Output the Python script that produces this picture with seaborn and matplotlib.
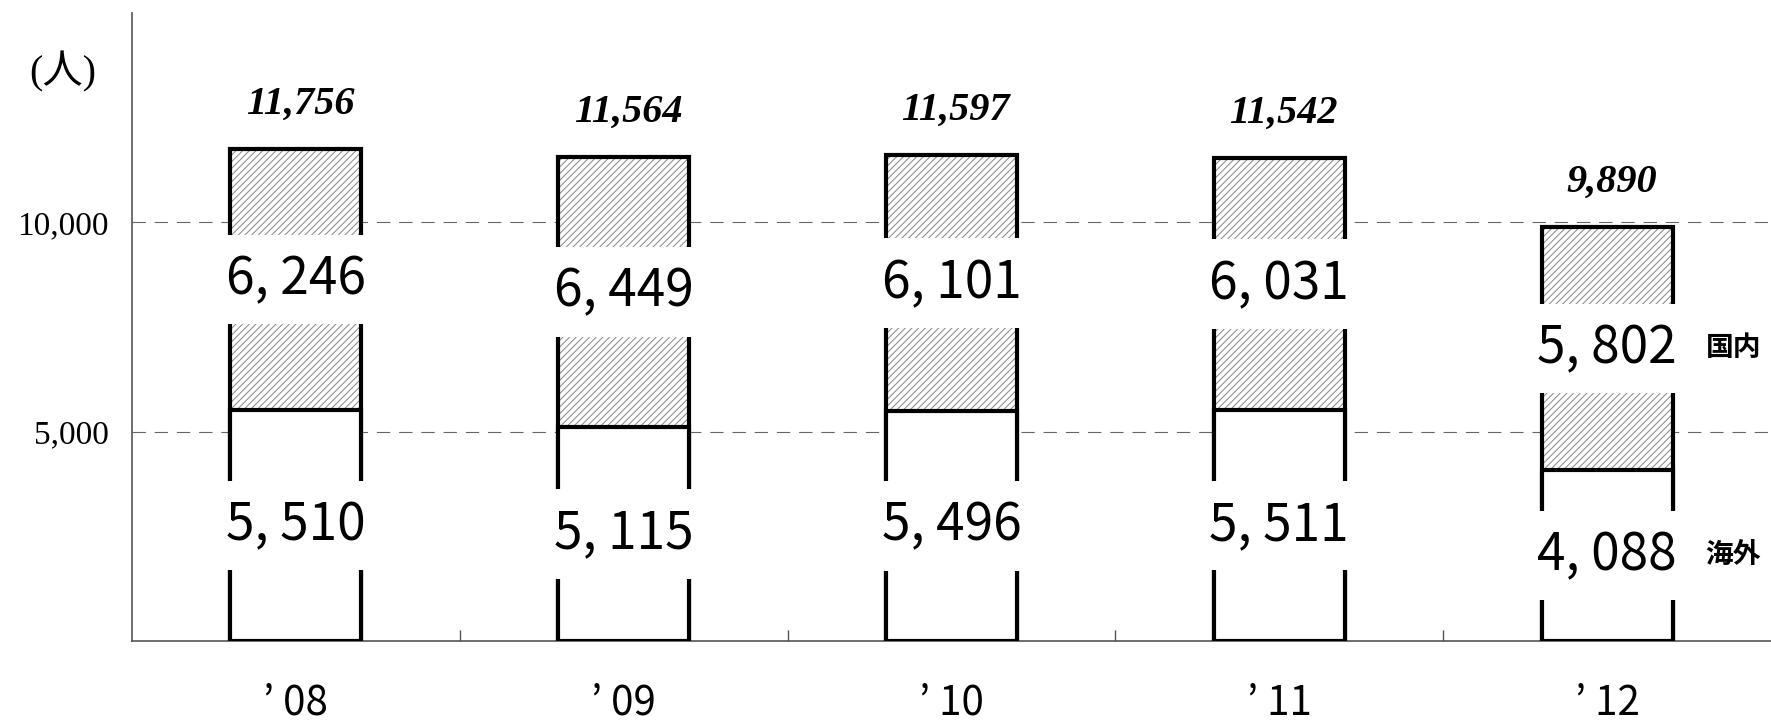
import matplotlib
matplotlib.use("Agg")
import matplotlib.pyplot as plt
import seaborn as sns

# data
YEARS = ["’ 08", "’ 09", "’ 10", "’ 11", "’ 12"]
DOMESTIC = [6246, 6449, 6101, 6031, 5802]   # 国内
OVERSEAS = [5510, 5115, 5496, 5511, 4088]   # 海外
Y_TICKS = [5000, 10000]
Y_TICK_LABELS = ["5,000", "10,000"]
UNIT_LABEL = "(人)"
SERIES_LABELS = ["国内", "海外"]

GOTHIC = ["Noto Sans CJK JP", "DejaVu Sans"]
SERIF = ["Liberation Serif", "Noto Sans CJK JP"]


def seg_label(v):
    return f"{v:,}".replace(",", ", ")


def make_plot():
    plt.rcParams["font.family"] = GOTHIC
    plt.rcParams["hatch.linewidth"] = 0.75

    totals = [d + o for d, o in zip(DOMESTIC, OVERSEAS)]

    fig = plt.figure(figsize=(17.71, 7.24), dpi=100)
    ax = fig.add_axes([132 / 1771, 83 / 724, 1 - 132 / 1771, (641 - 13) / 724])

    # hatched fill for the domestic part (full stack height)
    sns.barplot(x=YEARS, y=totals, color="white", edgecolor="#8c8c8c",
                hatch="/////", linewidth=0, width=0.4, errorbar=None,
                saturation=1, zorder=3, ax=ax)
    # black outline of the full stack
    n0 = len(ax.patches)
    sns.barplot(x=YEARS, y=totals, color="white", edgecolor="black",
                linewidth=3, width=0.4, errorbar=None, saturation=1,
                zorder=3, ax=ax)
    for p in ax.patches[n0:]:
        p.set_facecolor("none")
    # overseas part on the bottom, plain white
    sns.barplot(x=YEARS, y=OVERSEAS, color="white", edgecolor="black",
                linewidth=3, width=0.4, errorbar=None, saturation=1,
                zorder=3, ax=ax)

    box = dict(facecolor="white", edgecolor="none", boxstyle="square,pad=0.35")
    for i, (d, o, t) in enumerate(zip(DOMESTIC, OVERSEAS, totals)):
        ax.text(i, o + d / 2, seg_label(d), ha="center", va="center",
                fontsize=37, bbox=box, zorder=5)
        ax.text(i, o / 2, seg_label(o), ha="center", va="center",
                fontsize=37, bbox=box, zorder=5)
        ax.annotate(f"{t:,}", (i, t), xytext=(3, 19), textcoords="offset points",
                    ha="center", va="bottom", fontsize=29, fontstyle="italic",
                    fontweight="bold", family=SERIF)

    last = len(YEARS) - 1
    ax.text(last + 0.30, OVERSEAS[last] + DOMESTIC[last] / 2, SERIES_LABELS[0],
            ha="left", va="center", fontsize=20, fontweight="bold")
    ax.text(last + 0.30, OVERSEAS[last] / 2, SERIES_LABELS[1],
            ha="left", va="center", fontsize=20, fontweight="bold")

    ax.set_xlim(-0.5, len(YEARS) - 0.5)
    ax.set_ylim(0, 15000)
    ax.set_yticks(Y_TICKS)
    ax.set_yticklabels(Y_TICK_LABELS, family=SERIF, fontsize=24)
    ax.set_xticks(range(len(YEARS)))
    ax.set_xticklabels(YEARS, fontsize=29)
    ax.set_xticks([i + 0.5 for i in range(len(YEARS) - 1)], minor=True)
    ax.tick_params(axis="y", length=0, pad=17)
    ax.tick_params(axis="x", which="major", length=0, pad=30)
    ax.tick_params(axis="x", which="minor", direction="in", length=8,
                   width=1, color="#555555")
    ax.set_xlabel("")
    ax.set_ylabel("")

    ax.set_axisbelow(True)
    ax.yaxis.grid(True, linestyle=(0, (12, 8)), color="#666666", linewidth=0.8)
    ax.xaxis.grid(False)
    for side in ("top", "right"):
        ax.spines[side].set_visible(False)
    for side in ("left", "bottom"):
        ax.spines[side].set_color("#555555")
        ax.spines[side].set_linewidth(1.2)

    fig.text(63 / 1771, 1 - 72 / 724, UNIT_LABEL, ha="center", va="center",
             fontsize=29, family=SERIF)
    return fig


def main():
    fig = make_plot()
    fig.savefig("out.png", dpi=100)
    plt.close(fig)


if __name__ == "__main__":
    main()
